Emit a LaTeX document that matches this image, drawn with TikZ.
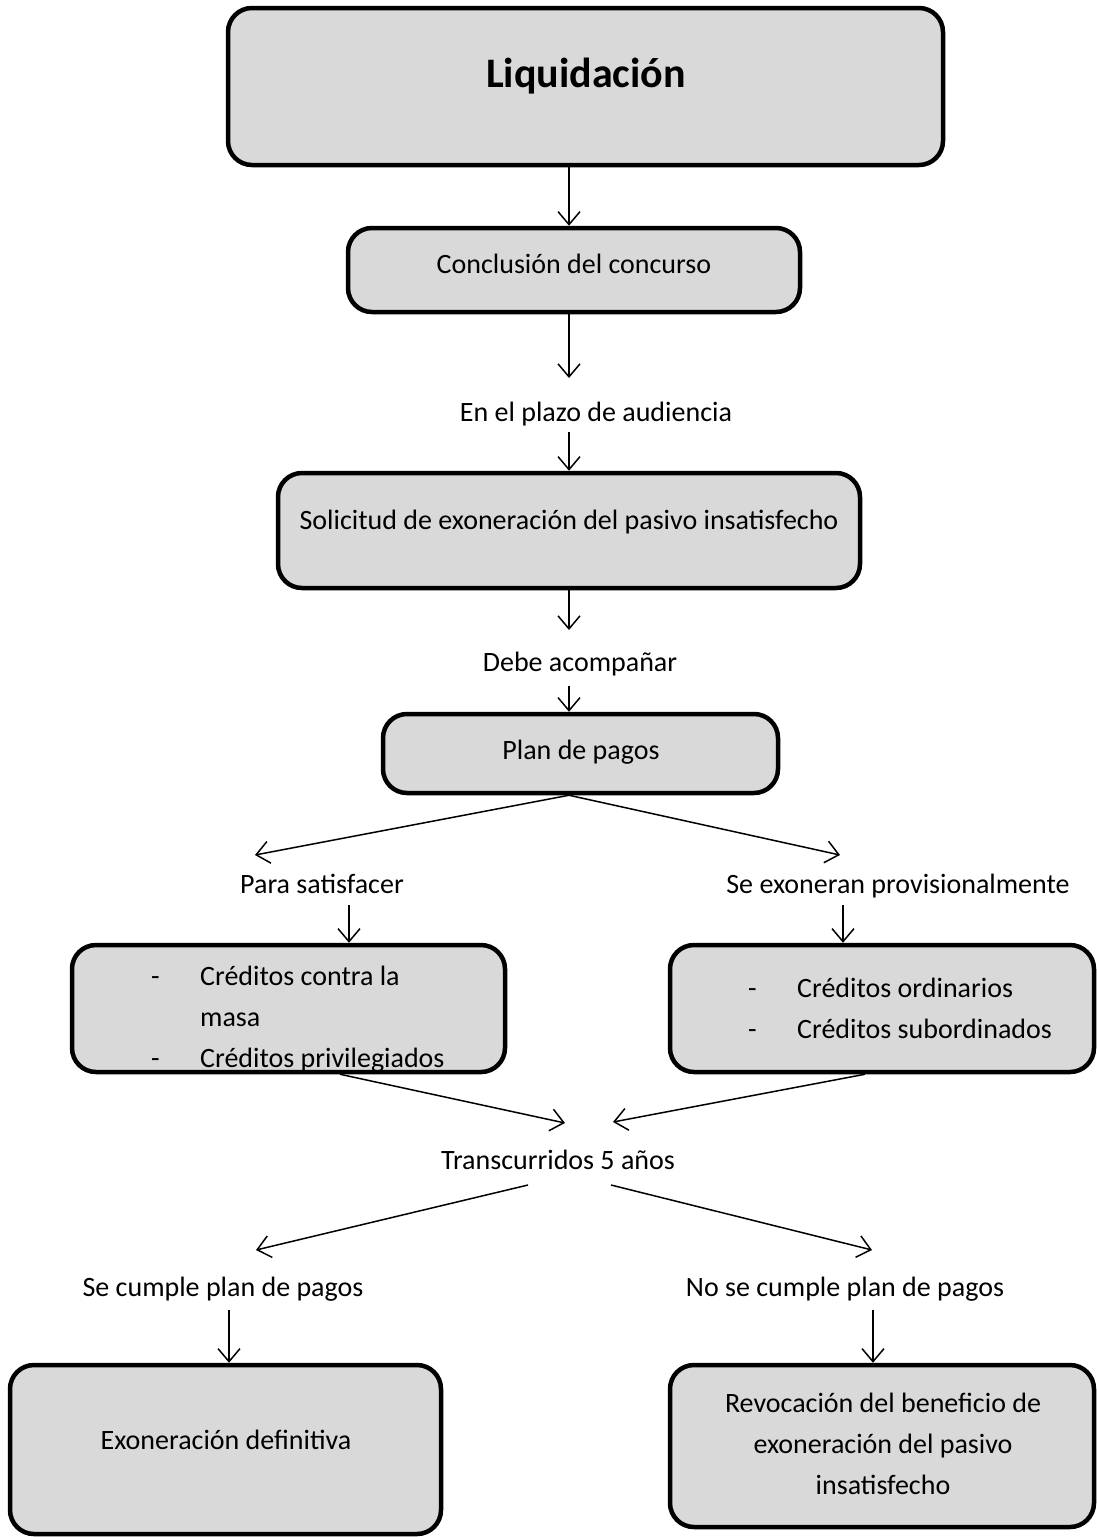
\documentclass[tikz,border=0pt]{standalone}
\usepackage{fontspec}
\setmainfont{Carlito}
\usetikzlibrary{arrows.meta,calc}
\definecolor{boxgray}{HTML}{D9D9D9}
\begin{document}
\begin{tikzpicture}[x=1pt,y=-1pt,
  box/.style={draw=black, line width=4.5pt, fill=boxgray, rounded corners=24pt, inner sep=0pt},
  txt/.style={font=\fontsize{28}{41}\selectfont, inner sep=0pt, text=black},
  ttl/.style={font=\fontsize{42}{50}\selectfont\bfseries, inner sep=0pt, text=black},
  arr/.style={line width=1.5pt, -{Straight Barb[length=13pt,width=22pt,line width=1.5pt]}}]
\useasboundingbox (0,0) rectangle (1097,1537);
% boxes
\node[box, minimum width=715pt, minimum height=157pt] (liq) at (585.5,86.5) {};
\node[ttl] (liqt) at (586,76) {Liquidación};
\node[box, minimum width=452pt, minimum height=84pt] (conc) at (574,270) {};
\node[txt] (conct) at (574,264) {Conclusión del concurso};
\node[box, minimum width=582pt, minimum height=115pt] (sol) at (569,530.5) {};
\node[txt] (solt) at (569,522) {Solicitud de exoneración del pasivo insatisfecho};
\node[box, minimum width=395pt, minimum height=79pt] (plan) at (580.5,753.5) {};
\node[txt] (plant) at (581,752) {Plan de pagos};
\node[box, minimum width=433pt, minimum height=127pt] (lbox) at (288.5,1008.5) {};
\node[txt, anchor=west, align=left] (lboxt) at (151,1019)
  {\makebox[49pt][l]{-}Créditos contra la\\ \hspace*{49pt}masa\\ \makebox[49pt][l]{-}Créditos privilegiados};
\node[box, minimum width=424pt, minimum height=127pt] (rbox) at (882,1008.5) {};
\node[txt, anchor=west, align=left] (rboxt) at (748,1008)
  {\makebox[49pt][l]{-}Créditos ordinarios\\ \makebox[49pt][l]{-}Créditos subordinados};
\node[box, minimum width=431pt, minimum height=169pt] (exon) at (225.5,1449.5) {};
\node[txt] (exont) at (226,1440) {Exoneración definitiva};
\node[box, minimum width=424pt, minimum height=162pt] (rev) at (882,1446) {};
\node[txt, align=center] (revt) at (883,1444) {Revocación del beneficio de\\ exoneración del pasivo\\ insatisfecho};
% labels
\node[txt] (plazo) at (596,414) {En el plazo de audiencia};
\node[txt] (debe) at (580,664) {Debe acompañar};
\node[txt, anchor=base] (para) at (322,893) {Para satisfacer};
\node[txt, anchor=base] (seexo) at (898,893) {Se exoneran provisionalmente};
\node[txt] (trans) at (558,1160) {Transcurridos 5 años};
\node[txt] (secum) at (223,1289) {Se cumple plan de pagos};
\node[txt] (nosec) at (845,1289) {No se cumple plan de pagos};
% coordinates
\coordinate (mid) at (569,0);
\coordinate (c2) at (569,378);
\coordinate (c3) at (569,432);
\coordinate (c4) at (569,630);
\coordinate (c5) at (569,686);
\coordinate (c6) at (255,855);
\coordinate (c7) at (840,855);
\coordinate (c8) at (349,905);
\coordinate (c9) at (843,905);
\coordinate (c10) at (565,1123);
\coordinate (c11) at (613,1122);
\coordinate (c12s) at (528,1185);
\coordinate (c12) at (256,1250);
\coordinate (c13s) at (611,1185);
\coordinate (c13) at (872,1250);
\coordinate (c14) at (229,1310);
\coordinate (c15) at (873,1310);
% arrows
\draw[arr] (liq.south -| mid) -- (conc.north -| mid);
\draw[arr] (conc.south -| mid) -- (c2);
\draw[arr] (c3) -- (sol.north -| mid);
\draw[arr] (sol.south -| mid) -- (c4);
\draw[arr] (c5) -- (plan.north -| mid);
\draw[arr] (plan.south -| mid) -- (c6);
\draw[arr] (plan.south -| mid) -- (c7);
\draw[arr] (c8) -- (lbox.north -| c8);
\draw[arr] (c9) -- (rbox.north -| c9);
\draw[arr] ([xshift=51.5pt]lbox.south) -- (c10);
\draw[arr] ([xshift=-17pt]rbox.south) -- (c11);
\draw[arr] (c12s) -- (c12);
\draw[arr] (c13s) -- (c13);
\draw[arr] (c14) -- (exon.north -| c14);
\draw[arr] (c15) -- (rev.north -| c15);
\end{tikzpicture}
\end{document}
